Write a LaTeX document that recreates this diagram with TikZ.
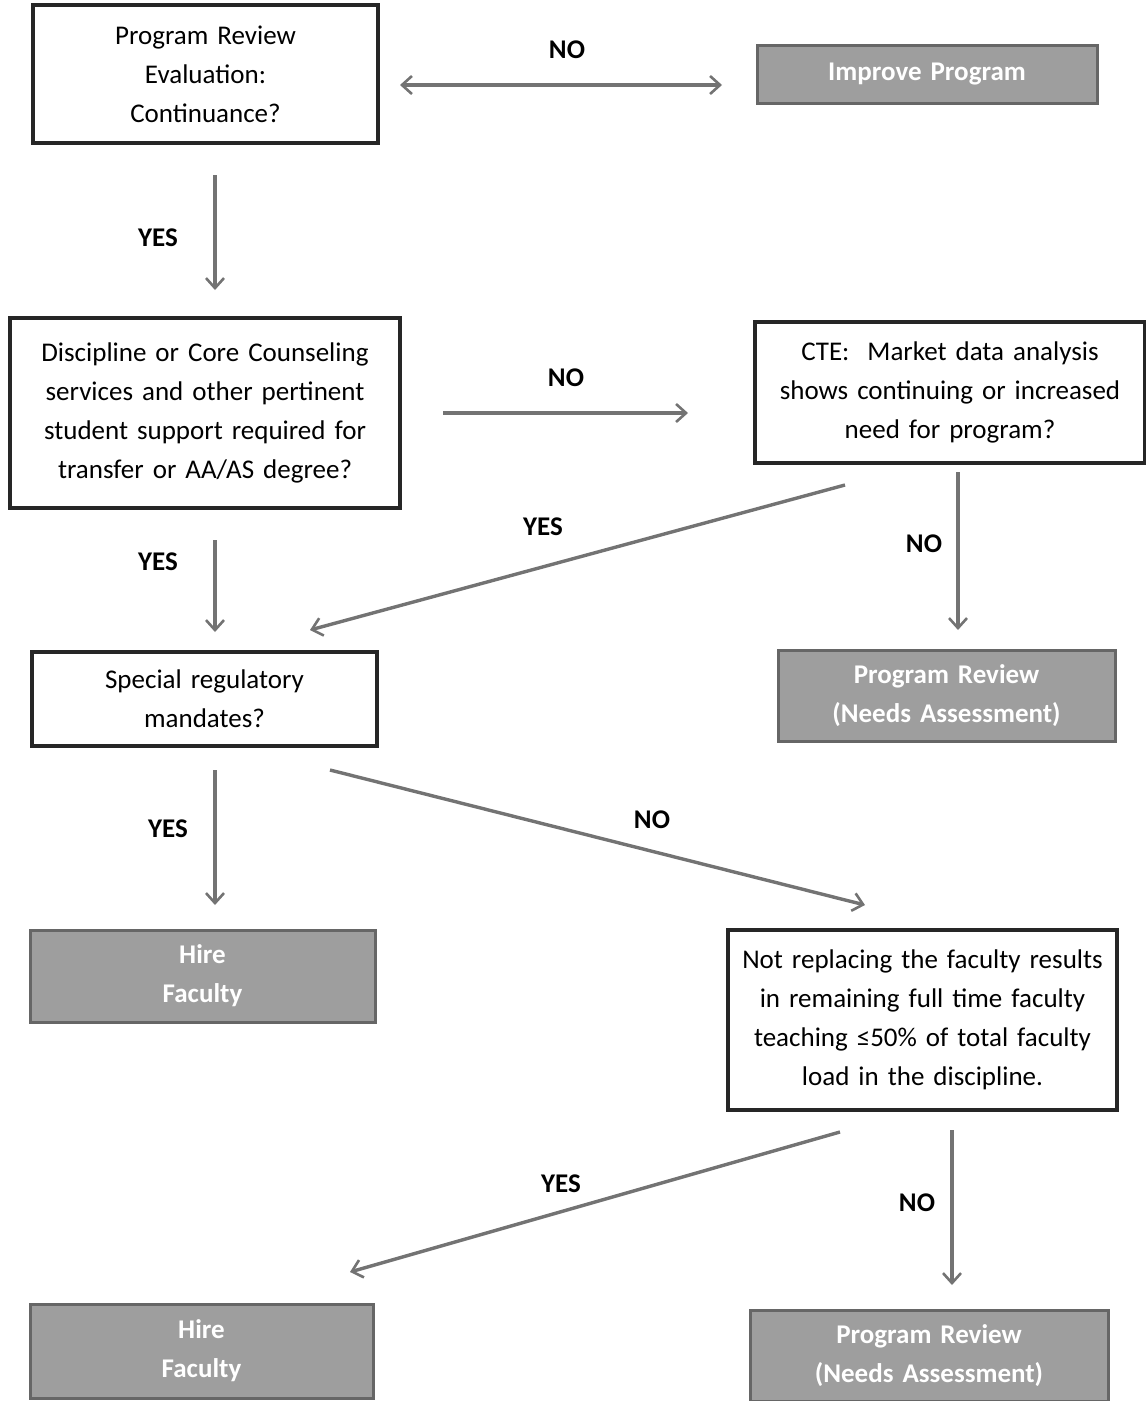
\documentclass[tikz,border=0pt]{standalone}
\usepackage{fontspec}
\setmainfont{Carlito}
\usetikzlibrary{arrows.meta}
\begin{document}
\begin{tikzpicture}[x=1pt,y=-1pt,
  qbox/.style={draw=black!85,line width=3.6pt,fill=white,align=center,inner sep=0pt,
    font=\fontsize{27}{39}\selectfont},
  gbox/.style={draw=black!60,line width=3pt,fill=black!38,align=center,inner sep=0pt,
    text=white,font=\fontsize{27}{39}\selectfont\bfseries},
  conn/.style={draw=black!55,line width=3.4pt,-{Straight Barb[length=10pt,width=18pt,line width=2.6pt]}},
  dconn/.style={draw=black!55,line width=3.4pt,{Straight Barb[length=10pt,width=18pt,line width=2.6pt]}-{Straight Barb[length=10pt,width=18pt,line width=2.6pt]}},
  lbl/.style={font=\fontsize{27}{30}\selectfont\bfseries,text=black}]
\useasboundingbox (0,0) rectangle (1146,1401);
% boxes
\node[qbox,minimum width=345pt,minimum height=138pt,text width=335pt] (eval) at (205.5,74) {Program Review\\Evaluation:\\Continuance?};
\node[gbox,minimum width=340pt,minimum height=58pt,text width=330pt] (improve) at (927,74) {Improve Program};
\node[qbox,minimum width=390pt,minimum height=190pt,text width=385pt] (disc) at (205,413) {Discipline or Core Counseling\\services and other pertinent\\student support required for\\transfer or AA/AS degree?};
\node[qbox,minimum width=390pt,minimum height=141pt,text width=385pt] (cte) at (950,392.5) {CTE:\ \ Market data analysis\\shows continuing or increased\\need for program?};
\node[qbox,minimum width=345pt,minimum height=94pt,text width=335pt] (spec) at (204.5,699) {Special regulatory\\mandates?};
\node[gbox,minimum width=337pt,minimum height=91pt,text width=330pt] (prr1) at (946.5,695.5) {Program Review\\(Needs Assessment)};
\node[gbox,minimum width=345pt,minimum height=92pt,text width=330pt] (hire1) at (202.5,976) {Hire\\Faculty};
\node[qbox,minimum width=389pt,minimum height=180pt,text width=385pt] (notrep) at (922.5,1020) {Not replacing the faculty results\\in remaining full time faculty\\teaching ≤50\% of total faculty\\load in the discipline.};
\node[gbox,minimum width=343pt,minimum height=94pt,text width=330pt] (hire2) at (201.5,1351) {Hire\\Faculty};
\node[gbox,minimum width=358pt,minimum height=91pt,text width=345pt] (prr2) at (929,1355.5) {Program Review\\(Needs Assessment)};
% connector endpoints
\coordinate (a1) at (400,85); \coordinate (a2) at (722,85);
\coordinate (b1) at (215,175); \coordinate (b2) at (215,290);
\coordinate (c1) at (443,413); \coordinate (c2) at (688,413);
\coordinate (d1) at (845,485); \coordinate (d2) at (310,630);
\coordinate (e1) at (958,472); \coordinate (e2) at (958,630);
\coordinate (f1) at (215,540); \coordinate (f2) at (215,632);
\coordinate (g1) at (215,770); \coordinate (g2) at (215,905);
\coordinate (h1) at (330,770); \coordinate (h2) at (865,905);
\coordinate (i1) at (840,1132); \coordinate (i2) at (350,1272);
\coordinate (j1) at (952,1130); \coordinate (j2) at (952,1285);
% connectors
\draw[dconn] (a1) -- (a2);
\draw[conn] (b1) -- (b2);
\draw[conn] (c1) -- (c2);
\draw[conn] (d1) -- (d2);
\draw[conn] (e1) -- (e2);
\draw[conn] (f1) -- (f2);
\draw[conn] (g1) -- (g2);
\draw[conn] (h1) -- (h2);
\draw[conn] (i1) -- (i2);
\draw[conn] (j1) -- (j2);
% labels
\node[lbl] (l1) at (567,50) {NO};
\node[lbl] (l2) at (158,238) {YES};
\node[lbl] (l3) at (566,378) {NO};
\node[lbl] (l4) at (543,527) {YES};
\node[lbl] (l5) at (924,544) {NO};
\node[lbl] (l6) at (158,562) {YES};
\node[lbl] (l7) at (168,829) {YES};
\node[lbl] (l8) at (652,820) {NO};
\node[lbl] (l9) at (561,1184) {YES};
\node[lbl] (l10) at (917,1203) {NO};
\end{tikzpicture}
\end{document}
